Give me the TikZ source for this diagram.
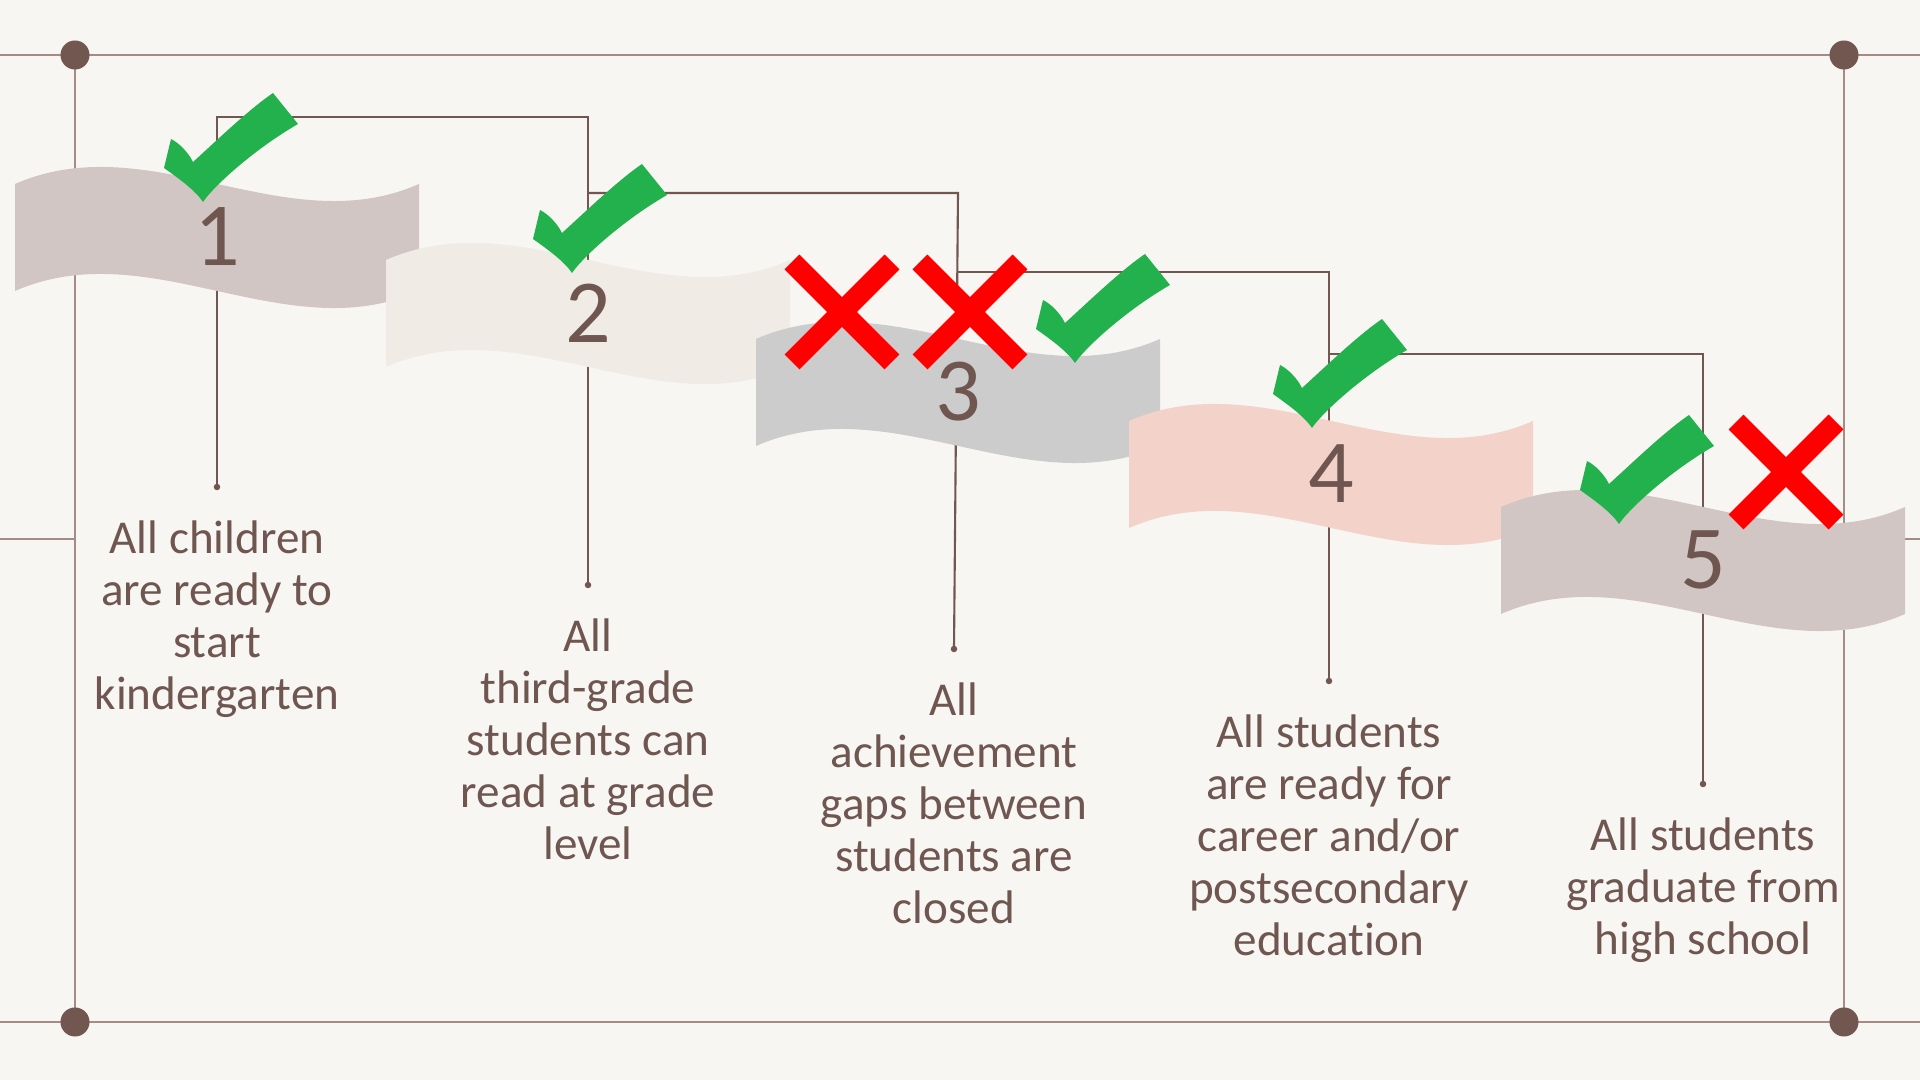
\documentclass[tikz,border=0pt]{standalone}
\usepackage{fontspec}
\setmainfont{Carlito}[Ligatures=NoCommon]
\usetikzlibrary{positioning}

\definecolor{paper}{HTML}{F7F6F2}
\definecolor{framebrown}{HTML}{A48C85}
\definecolor{darkbrown}{HTML}{725650}
\definecolor{textbrown}{HTML}{6F5650}
\definecolor{bannerA}{HTML}{D1C6C3}
\definecolor{bannerB}{HTML}{F0EBE5}
\definecolor{bannerC}{HTML}{CCCCCC}
\definecolor{bannerD}{HTML}{F3D2CA}
\definecolor{tickgreen}{HTML}{22B14C}
\definecolor{crossred}{HTML}{FF0000}

\tikzset{
	frame/.style={line width=0.6pt, color=framebrown},
	link/.style={line width=0.6pt, color=darkbrown},
	bigdot/.style={circle, fill=darkbrown, inner sep=0pt, minimum size=0.29cm},
	tipdot/.style={circle, fill=darkbrown, inner sep=0pt, minimum size=0.065cm},
	goal/.style={align=center, text=textbrown, inner sep=0pt, font=\fontsize{13.4}{14.8}\selectfont},
	digit/.style={text=textbrown, inner sep=0pt, font=\fontsize{25.6}{30}\selectfont}
}

\def\banner(#1,#2)#3{\fill[#3, shift={(#1,#2)}] (0,0) .. controls (135,-59) and (270,59) .. (404,0) -- (404,107) .. controls (270,166) and (135,48) .. (0,107) -- cycle;}
\def\checkmk(#1,#2){\fill[tickgreen, shift={(#1,#2)}] (0,0) .. controls (10,-15) and (50,-52) .. (95,-78) -- (70,-109) .. controls (45,-92) and (10,-58) .. (-10,-40) .. controls (-15,-50) and (-24,-59) .. (-32,-63) -- (-39,-34) .. controls (-25,-24) and (-8,-12) .. (0,0) -- cycle;}
\def\crossmk(#1,#2){\draw[crossred, line width=0.21cm, shift={(#1,#2)}] (-50,-50) -- (50,50) (-50,50) -- (50,-50);}

\begin{document}
\begin{tikzpicture}[x=0.01cm, y=-0.01cm]
		%%%%% START %%%%%
		
		\useasboundingbox (0,0) rectangle (1920,1080);
		\fill[paper] (0,0) rectangle (1920,1080);
		
		% frame
		\coordinate (ftl) at (0,55);
		\coordinate (ftr) at (1920,55);
		\coordinate (fbl) at (0,1022);
		\coordinate (fbr) at (1920,1022);
		\coordinate (fml) at (0,539);
		\coordinate (fmr) at (1920,539);
		\coordinate (c1) at (75,55);
		\coordinate (c2) at (1844,55);
		\coordinate (c3) at (75,1022);
		\coordinate (c4) at (1844,1022);
		
		\draw[frame] (ftl) -- (ftr);
		\draw[frame] (fbl) -- (fbr);
		\draw[frame] (c1) -- (c3);
		\draw[frame] (c2) -- (c4);
		\draw[frame] (fml) -- (c1 |- fml);
		\draw[frame] (c2 |- fmr) -- (fmr);
		
		\node[bigdot] (k1) at (c1) {};
		\node[bigdot] (k2) at (c2) {};
		\node[bigdot] (k3) at (c3) {};
		\node[bigdot] (k4) at (c4) {};
		
		% steps
		\coordinate (d1) at (217,487);
		\coordinate (d2) at (588,585);
		\coordinate (d3) at (954,649);
		\coordinate (d4) at (1329,681);
		\coordinate (d5) at (1703,784);
		
		\coordinate (b1) at (217,117);
		\coordinate (b2) at (588,193);
		\coordinate (b3) at (958,272);
		\coordinate (b4) at (1330,354);
		
		\draw[link] (d1) -- (b1) -| (d2);
		\draw[link] (b2) -- (b2 -| b3) -- (d3);
		\draw[link] (b3) -| (d4);
		\draw[link] (b4) -| (d5);
		
		\node[tipdot] (t1) at (d1) {};
		\node[tipdot] (t2) at (d2) {};
		\node[tipdot] (t3) at (d3) {};
		\node[tipdot] (t4) at (d4) {};
		\node[tipdot] (t5) at (d5) {};
		
		% banners
		\banner(15,184){bannerA}
		\banner(386,260){bannerB}
		\banner(756,339){bannerC}
		\banner(1129,421){bannerD}
		\banner(1501,507){bannerA}
		
		\node[digit] (n1) at (217,237) {1};
		\node[digit] (n2) at (588,313) {2};
		\node[digit] (n3) at (958,392) {3};
		\node[digit] (n4) at (1331,474) {4};
		\node[digit] (n5) at (1703,560) {5};
		
		% marks
		\checkmk(203,202)
		\checkmk(572,273)
		\crossmk(842,312)
		\crossmk(970,312)
		\checkmk(1075,363)
		\checkmk(1312,428)
		\checkmk(1619,524)
		\crossmk(1786,472)
		
		% goals
		\node[goal, below=0.29cm of t1] (g1) {All children\\are ready to\\start\\kindergarten};
		\node[goal, below=0.29cm of t2] (g2) {All\\third-grade\\students can\\read at grade\\level};
		\node[goal, below=0.29cm of t3] (g3) {All\\achievement\\gaps between\\students are\\closed};
		\node[goal, below=0.29cm of t4] (g4) {All students\\are ready for\\career and/or\\postsecondary\\education};
		\node[goal, below=0.29cm of t5] (g5) {All students\\graduate from\\high school};
		
		%%%%% END %%%%%
	\end{tikzpicture}
\end{document}
